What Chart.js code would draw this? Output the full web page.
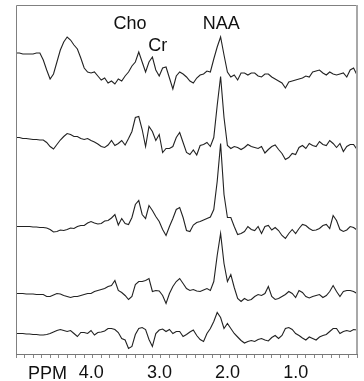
<!DOCTYPE html>
<html>
<head>
<meta charset="utf-8">
<script src="https://cdn.jsdelivr.net/npm/chart.js@4/dist/chart.umd.min.js"></script>
<style>
  body { margin: 0; background: #fff; }
</style>
</head>
<body>
<canvas id="spectra" width="364" height="381"></canvas>
<script>
// chemical shift grid (ppm), left to right
const ppm = [
  5.00, 4.95, 4.90, 4.85, 4.80, 4.75, 4.70, 4.65, 4.60, 4.55,
  4.50, 4.45, 4.40, 4.35, 4.30, 4.25, 4.20, 4.15, 4.10, 4.05,
  4.00, 3.95, 3.90, 3.85, 3.80, 3.75, 3.70, 3.65, 3.60, 3.55,
  3.50, 3.45, 3.40, 3.35, 3.30, 3.25, 3.20, 3.15, 3.10, 3.05,
  3.00, 2.95, 2.90, 2.85, 2.80, 2.75, 2.70, 2.65, 2.60, 2.55,
  2.50, 2.45, 2.40, 2.35, 2.30, 2.25, 2.20, 2.15, 2.10, 2.05,
  2.00, 1.95, 1.90, 1.85, 1.80, 1.75, 1.70, 1.65, 1.60, 1.55,
  1.50, 1.45, 1.40, 1.35, 1.30, 1.25, 1.20, 1.15, 1.10, 1.05,
  1.00, 0.95, 0.90, 0.85, 0.80, 0.75, 0.70, 0.65, 0.60, 0.55,
  0.50, 0.45, 0.40, 0.35, 0.30, 0.25, 0.20, 0.15, 0.10, 0.05,
  0.00
];

// signal of each spectrum, relative to its own baseline
const spectrum1 = [
  0, 0, -1, -1, -1, -1, 0, 0, -7, -17,
  -26, -21, -9, 3, 11, 16, 13, 8, 4, -5,
  -15, -19, -20, -19, -23, -27, -25, -30, -28, -31,
  -26, -28, -23, -19, -13, -9, 1, -9, -19, -9,
  -4, -17, -23, -15, -14, -25, -36, -23, -19, -21,
  -24, -28, -30, -25, -22, -21, -18, -19, -6, 6,
  16, -2, -19, -24, -22, -27, -20, -20, -22, -20,
  -20, -23, -24, -21, -21, -24, -26, -28, -30, -35,
  -29, -28, -27, -26, -25, -23, -24, -19, -18, -17,
  -20, -22, -19, -21, -22, -21, -20, -24, -17, -15,
  -22
];
const spectrum2 = [
  0, 0, -1, -1, -1.5, -2, -2, -2.5, -2.5, -5,
  -9, -11.5, -7, -2.5, 1, 4, 3, 1, 1, -1,
  -2, -1, -3, -4.5, -6.5, -9, -10, -7.5, -3, -8,
  -6, -3, -7.5, -1, 6, 20, 21, 8, -9, 11,
  6, -3, 3, -15, -11, -11, -9, 0, 5, -5,
  -15, -17, -12.5, -17.5, -8, -7, -5, -9, 0, 32,
  61, 20, -8, -11, -9, -10, -12, -10, -7, -9,
  -10, -11, -9, -15.5, -12, -9, -7.5, -12, -16, -22,
  -20, -16, -17, -10, -8, -11, -6, -8, -9, -4,
  -7, -8, -3, -6, -10, -6, -14, -9, -7, -7,
  -12
];
const spectrum3 = [
  0, 0, 0, 0, 0, -0.5, -0.5, -1, -1, -1.5,
  -3, -5.5, -5, -3.5, -4, -3, -1.5, -2, 0, 1,
  1, 3.5, 5, 3.5, 2.5, 3, 5.5, 6, 8.5, 12,
  1.5, 8, 3, 2, 9, 22, 26, 12, 8, 21,
  16, 10, 5, -3, -9, 0, 8, 17, 19, 9,
  -4, -5, 1.5, 4, 5, 6.5, 8, 9.5, 17, 45,
  83, 32, 9, 9, 0, -8, -7, -5, 0, -3,
  -4, 0, -7, 0, 1, -3.5, -1, -4, -9, -12,
  -7, -3, -7, -2, 2, 1, -2, -4, -3.5, -2,
  1, 2, -2, 11, 6, -3, -5, -3.5, 0, -1,
  -3.5
];
const spectrum4 = [
  0, 0, 0, -0.5, -0.5, -0.5, -1, -1, -1, -3,
  -3, -1.5, 0, -0.5, -2, -3, -4, -3, -3, -2,
  -1, 0, 0, 2, 3, 4, 5, 7, 8, 13,
  3, 1, -2, -6, -3, 9, 12, 12, 13, 15,
  2, 3, 2.5, -2, -10, 0, 7, 12, 15, 10,
  5, 3, 4, 2.5, 2, 3.5, 5, 3, 12, 38,
  60, 30, 12, 19, 6, -5, -8, -5, -7, -6,
  -3, -1, -2, 0, 7, -3, -6, -5, -3, -1,
  2, 0, -4, 3, 1, -3, -4.5, -3, -2, -1,
  -4, -2, 2, 8, 2, -3, 2, 3, 3, 2,
  0
];
const spectrum5 = [
  0, 0, 0, -0.5, -0.5, -1, -1, -1.5, -1.5, -1,
  0, 1.5, 3, 4, 3, 2, 3, 0, -3, 1,
  1, 0, 3, -1.5, 1, 1.5, 2.5, 5, 5, 4,
  1, -5, -6.5, -15, -13, -1, 5, 6, 4, -6,
  -13, 0, 3.5, 4.5, 2, 4, 0, 2, 2, -3,
  -1, 1.5, 3.5, -2, -6, -8, 0, 5, 12, 21,
  16, 5, 10, 5, 0, -3.5, -7, -9.5, -8, -7,
  -8, -6, -5, -6.5, -7.5, -4, -2, -5, -2, 5,
  6, 4, 0, -2, -4.5, -6.5, -3.5, -5, -6.5, -3.5,
  -2, -1, 2, 5, 5, 0, 2, 3, 2, 4,
  3.5
];

// vertical stacking offsets of the spectra
const baselines = [301, 216.5, 127.5, 60.5, 20.5];

const peakNames = ["Cho", "Cr", "NAA"];
const peakPpm = [3.33, 2.92, 1.99];
const peakLevel = [325, 303, 325];

const spectra = [spectrum1, spectrum2, spectrum3, spectrum4, spectrum5];
const FONT = "'Liberation Sans', Arial, sans-serif";

const frame = {
  id: "frame",
  afterDraw(chart) {
    const { ctx, chartArea: a, scales } = chart;
    ctx.save();
    ctx.strokeStyle = "#808080";
    ctx.lineWidth = 1;
    ctx.beginPath();
    ctx.moveTo(a.left + 0.5, a.bottom);
    ctx.lineTo(a.left + 0.5, a.top + 0.5);
    ctx.lineTo(a.right, a.top + 0.5);
    ctx.stroke();
    ctx.strokeStyle = "#a8a8a8";
    ctx.lineWidth = 2;
    ctx.beginPath();
    ctx.moveTo(a.right, a.top);
    ctx.lineTo(a.right, a.bottom);
    ctx.stroke();

    ctx.fillStyle = "#111";
    ctx.font = "18px " + FONT;
    ctx.textAlign = "center";
    ctx.textBaseline = "alphabetic";
    peakNames.forEach((name, i) => {
      ctx.fillText(name, scales.x.getPixelForValue(peakPpm[i]),
        scales.y.getPixelForValue(peakLevel[i]));
    });
    ctx.textAlign = "left";
    ctx.fillText("PPM", 28, 379);
    ctx.restore();
  },
};

new Chart(document.getElementById("spectra"), {
  type: "line",
  data: {
    datasets: spectra.map((s, i) => ({
      data: s.map((v, j) => ({ x: ppm[j], y: baselines[i] + v })),
      borderColor: "#222",
      borderWidth: 1.1,
      pointRadius: 0,
      tension: 0,
      fill: false,
    })),
  },
  options: {
    responsive: false,
    animation: false,
    layout: { padding: { left: 16, right: 7, top: 5, bottom: 0 } },
    plugins: {
      legend: { display: false },
      tooltip: { enabled: false },
    },
    scales: {
      x: {
        type: "linear",
        reverse: true,
        min: 0,
        max: 5,
        afterFit(scale) {
          scale.height = 27;
        },
        grid: {
          drawOnChartArea: false,
          tickLength: 4,
          color: "#888",
        },
        border: { display: true, color: "#777" },
        ticks: {
          stepSize: 0.125,
          autoSkip: false,
          maxRotation: 0,
          labelOffset: 7,
          padding: 4,
          color: "#111",
          font: { family: FONT, size: 18 },
          callback: (v) => (Number.isInteger(v) && v > 0 && v < 5 ? v.toFixed(1) : ""),
        },
      },
      y: {
        display: false,
        min: 0,
        max: 349,
      },
    },
  },
  plugins: [frame],
});
</script>
</body>
</html>
